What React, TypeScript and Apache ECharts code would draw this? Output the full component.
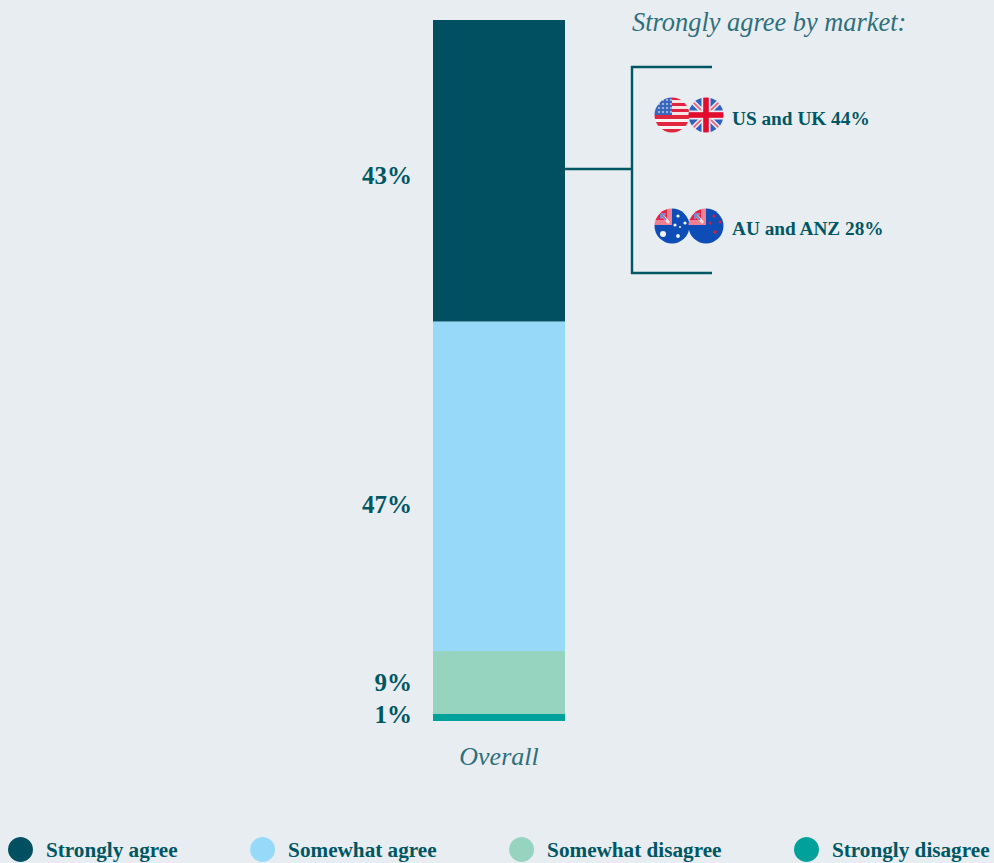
import React, { useEffect, useRef } from "react";
import * as echarts from "echarts";

const categories = ["Overall"];
const seriesNames = ["Strongly agree", "Somewhat agree", "Somewhat disagree", "Strongly disagree"];
const stronglyAgree = [43];
const somewhatAgree = [47];
const somewhatDisagree = [9];
const stronglyDisagree = [1];
const marketTitle = "Strongly agree by market:";
const marketLabels = ["US and UK 44%", "AU and ANZ 28%"];

const INK = "#005764";
const SOFT_INK = "#2f6f7c";
const SERIF = "'Liberation Serif', serif";

// Wraps flag artwork in a round clip with a slight softening, as a data URI for a graphic image.
const roundFlag = (id: string, body: string) =>
  "data:image/svg+xml;utf8," +
  encodeURIComponent(
    `<svg xmlns="http://www.w3.org/2000/svg" width="36" height="36" viewBox="0 0 36 36"><defs><clipPath id="${id}"><circle cx="18" cy="18" r="17.5"/></clipPath><filter id="s" x="-10%" y="-10%" width="120%" height="120%"><feGaussianBlur stdDeviation="0.6"/></filter></defs><g clip-path="url(#${id})"><g filter="url(#s)">${body}</g></g></svg>`
  );

const unionJack = (w: number, h: number) =>
  `<rect x="-2" y="-2" width="${w + 4}" height="${h + 4}" fill="#2f62bd"/>
  <path d="M-2 -2L${w + 2} ${h + 2}M${w + 2} -2L-2 ${h + 2}" stroke="#e6e8f2" stroke-width="5"/>
  <path d="M-2 -2L${w + 2} ${h + 2}M${w + 2} -2L-2 ${h + 2}" stroke="#e8607a" stroke-width="1.6"/>
  <rect x="${w / 2 - 4.5}" y="-2" width="9" height="${h + 4}" fill="#f3e9ee"/>
  <rect x="-2" y="${h / 2 - 4.5}" width="${w + 4}" height="9" fill="#f3e9ee"/>
  <rect x="${w / 2 - 2.8}" y="-2" width="5.6" height="${h + 4}" fill="#e2092f"/>
  <rect x="-2" y="${h / 2 - 2.8}" width="${w + 4}" height="5.6" fill="#e2092f"/>`;

const usBody = () => {
  const bands = [
    [-2, 5, "#e2233f"], [3, 3, "#f5e4e6"], [6, 3, "#e2233f"], [9, 3, "#f5e4e6"],
    [12, 3, "#e2233f"], [15, 3, "#f5e4e6"], [18, 4, "#e2273f"], [22, 3, "#f7f3f3"],
    [25, 4, "#e2273f"], [29, 3, "#f7f3f3"], [32, 6, "#e2273f"],
  ];
  const stripes = bands.map(([y, h, c]) => `<rect x="-2" y="${y}" width="40" height="${h}" fill="${c}"/>`).join("");
  const dots = [3, 7, 11, 15]
    .flatMap((x) => [3, 7, 11, 15].map((y) => `<circle cx="${x + 2}" cy="${y}" r="0.9" fill="#c8d6ee"/>`))
    .join("");
  return `${stripes}<rect x="-2" y="-2" width="20" height="20" fill="#3a66bd"/>${dots}`;
};

// Blue field with a red canton in the upper-left quarter; stars are passed in.
const southernBase = (stars: string) =>
  `<rect x="-2" y="-2" width="40" height="40" fill="#0f4db5"/>
  <rect x="-2" y="-2" width="20" height="19" fill="#e8213f"/>
  <rect x="-2" y="12" width="20" height="5" fill="#ef7f92"/>
  <rect x="13" y="-2" width="5" height="19" fill="#ef7f92"/>
  <path d="M8 7L15 15" stroke="#f4dde3" stroke-width="3"/>
  <path d="M7 6L12 12M7 6H12M7 6V11" stroke="#7f86cc" stroke-width="2"/>
  ${stars}`;

const auStars = [
  [9, 26, 3], [24, 8, 1.6], [24, 28, 1.9], [31, 15, 1.6], [21, 17, 1.6], [26, 19, 1],
]
  .map(([x, y, r]) => `<circle cx="${x}" cy="${y}" r="${r}" fill="#f2f5fb"/>`)
  .join("");
const nzStars = [[26, 8, 1.6], [32, 14, 1.5], [22, 15, 1.5], [27, 24, 1.8]]
  .map(([x, y, r]) => `<circle cx="${x}" cy="${y}" r="${r}" fill="#c8204f"/>`)
  .join("");

const usFlag = roundFlag("us", usBody());
const ukFlag = roundFlag("uk", unionJack(36, 36));
const auFlag = roundFlag("au", southernBase(auStars));
const nzFlag = roundFlag("nz", southernBase(nzStars));

const segment = (name: string, data: number[], color: string, labelOffset: number[]) => ({
  name,
  type: "bar" as const,
  stack: "total",
  data,
  barWidth: "100%",
  itemStyle: { color },
  label: {
    show: true,
    position: "left" as const,
    distance: 21,
    offset: labelOffset,
    formatter: "{c}%",
    color: INK,
    fontFamily: SERIF,
    fontWeight: "bold" as const,
    fontSize: 25,
  },
});

const flagImage = (image: string, x: number, y: number) => ({
  type: "image" as const,
  x,
  y,
  style: { image, width: 36, height: 36 },
});

const marketText = (text: string, y: number) => ({
  type: "text" as const,
  x: 732,
  y,
  style: {
    text,
    fill: INK,
    font: `bold 19.3px ${SERIF}`,
    textVerticalAlign: "middle" as const,
  },
});

const bracketLine = (x1: number, y1: number, x2: number, y2: number) => ({
  type: "line" as const,
  shape: { x1, y1, x2, y2 },
  style: { stroke: INK, lineWidth: 2.4 },
});

export default function App() {
  const ref = useRef<HTMLDivElement>(null);

  useEffect(() => {
    if (!ref.current) return;
    const chart = echarts.init(ref.current, undefined, { renderer: "svg" });
    chart.setOption({
      animation: false,
      backgroundColor: "#e8edf1",
      grid: { left: 433, top: 20, width: 132, height: 701, containLabel: false },
      xAxis: {
        type: "category",
        data: categories,
        axisLine: { show: false },
        axisTick: { show: false },
        axisLabel: {
          margin: 22,
          color: SOFT_INK,
          fontFamily: SERIF,
          fontStyle: "italic",
          fontSize: 26,
        },
      },
      yAxis: { type: "value", min: 0, max: 100, show: false },
      legend: {
        left: 3,
        top: 832,
        width: 1100,
        itemWidth: 25,
        itemHeight: 25,
        itemGap: 72.5,
        icon: "circle",
        data: seriesNames,
        textStyle: {
          color: INK,
          fontFamily: SERIF,
          fontWeight: "bold",
          fontSize: 21.2,
          padding: [0, 0, 0, 8],
        },
      },
      series: [
        segment(seriesNames[3], stronglyDisagree, "#00a19b", [0, -3]),
        segment(seriesNames[2], somewhatDisagree, "#96d4bf", [0, 0]),
        segment(seriesNames[1], somewhatAgree, "#97d9f8", [0, 18]),
        segment(seriesNames[0], stronglyAgree, "#005061", [0, 5]),
      ],
      graphic: [
        {
          type: "text",
          x: 632,
          y: 22,
          style: {
            text: marketTitle,
            fill: SOFT_INK,
            font: `italic 26.4px ${SERIF}`,
            textVerticalAlign: "middle",
          },
        },
        bracketLine(565, 169, 632, 169),
        bracketLine(632, 66, 632, 274),
        bracketLine(631, 67, 712, 67),
        bracketLine(631, 273, 712, 273),
        flagImage(usFlag, 654, 97),
        flagImage(ukFlag, 688, 97),
        flagImage(auFlag, 654, 208),
        flagImage(nzFlag, 688, 208),
        marketText(marketLabels[0], 118),
        marketText(marketLabels[1], 228),
      ],
    });
    return () => chart.dispose();
  }, []);

  return <div ref={ref} style={{ position: "absolute", left: 0, top: 0, width: 994, height: 863 }} />;
}
